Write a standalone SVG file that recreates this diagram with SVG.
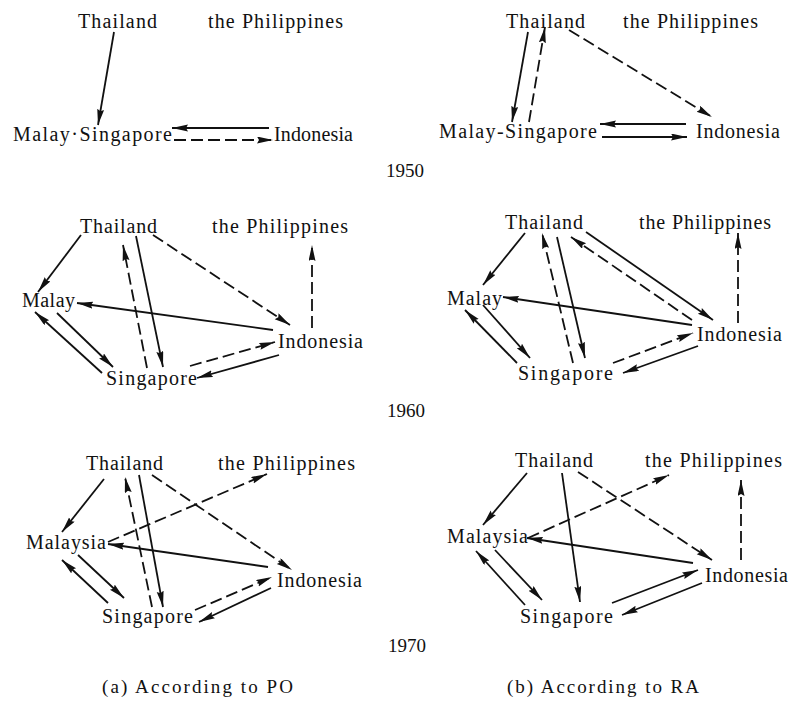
<svg xmlns="http://www.w3.org/2000/svg" width="792" height="701" viewBox="0 0 792 701">
<style>
text{font-family:"Liberation Serif","Times New Roman",serif;font-size:20px;fill:#111;}
.cap{font-size:19px;}
.s{stroke:#111;stroke-width:1.8;fill:none;marker-end:url(#ah);}
.d{stroke:#111;stroke-width:1.8;fill:none;stroke-dasharray:12 5;marker-end:url(#ah);}
</style>
<defs>
<marker id="ah" markerUnits="userSpaceOnUse" markerWidth="17" markerHeight="8" refX="16" refY="3.5" orient="auto">
<path d="M0,0 L16,3.5 L0,7 L2,3.5 Z" fill="#111"/>
</marker>
</defs>
<rect width="792" height="701" fill="#fff"/>

<!-- 1950 (a) -->
<g id="a1950-thailand"><text x="78" y="28" textLength="79" lengthAdjust="spacing">Thailand</text></g>
<g id="a1950-philippines"><text x="208" y="28" textLength="135" lengthAdjust="spacing">the Philippines</text></g>
<g id="a1950-malaysingapore"><text x="13" y="141" textLength="159" lengthAdjust="spacing">Malay·Singapore</text></g>
<g id="a1950-indonesia"><text x="274" y="141" textLength="79" lengthAdjust="spacing">Indonesia</text></g>
<g id="a1950-edges">
<path class="s" d="M114,32 L98,125"/>
<path class="s" d="M269,128 L172,128"/>
<path class="d" d="M174,140 L273,140"/>
</g>

<!-- 1950 (b) -->
<g id="b1950-thailand"><text x="506" y="28" textLength="79" lengthAdjust="spacing">Thailand</text></g>
<g id="b1950-philippines"><text x="623" y="28" textLength="135" lengthAdjust="spacing">the Philippines</text></g>
<g id="b1950-malaysingapore"><text x="439" y="138" textLength="158" lengthAdjust="spacing">Malay-Singapore</text></g>
<g id="b1950-indonesia"><text x="696" y="138" textLength="84" lengthAdjust="spacing">Indonesia</text></g>
<g id="b1950-edges">
<path class="s" d="M528,32 L512,122"/>
<path class="d" d="M529,122 L545,27"/>
<path class="d" d="M569,30 L712,117"/>
<path class="s" d="M686,124 L600,124"/>
<path class="s" d="M602,137 L687,137"/>
</g>
<g id="y1950"><text x="386" y="177" class="cap">1950</text></g>

<!-- 1960 (a) -->
<g id="a1960-thailand"><text x="80" y="233" textLength="77" lengthAdjust="spacing">Thailand</text></g>
<g id="a1960-philippines"><text x="212" y="233" textLength="136" lengthAdjust="spacing">the Philippines</text></g>
<g id="a1960-malay"><text x="22" y="307" textLength="53" lengthAdjust="spacing">Malay</text></g>
<g id="a1960-indonesia"><text x="278" y="348" textLength="85" lengthAdjust="spacing">Indonesia</text></g>
<g id="a1960-singapore"><text x="106" y="385" textLength="91" lengthAdjust="spacing">Singapore</text></g>
<g id="a1960-edges">
<path class="s" d="M81,235 L38,292"/>
<path class="s" d="M273,330 L77,303"/>
<path class="s" d="M57,313 L113,367"/>
<path class="s" d="M102,373 L35,312"/>
<path class="d" d="M147,368 L123,245"/>
<path class="s" d="M136,236 L163,367"/>
<path class="d" d="M153,235 L290,325"/>
<path class="d" d="M312,328 L312,245"/>
<path class="d" d="M190,366 L275,342"/>
<path class="s" d="M279,355 L197,378"/>
</g>

<!-- 1960 (b) -->
<g id="b1960-thailand"><text x="505" y="229" textLength="78" lengthAdjust="spacing">Thailand</text></g>
<g id="b1960-philippines"><text x="639" y="229" textLength="132" lengthAdjust="spacing">the Philippines</text></g>
<g id="b1960-malay"><text x="447" y="305" textLength="55" lengthAdjust="spacing">Malay</text></g>
<g id="b1960-indonesia"><text x="697" y="341" textLength="85" lengthAdjust="spacing">Indonesia</text></g>
<g id="b1960-singapore"><text x="518" y="380" textLength="95" lengthAdjust="spacing">Singapore</text></g>
<g id="b1960-edges">
<path class="s" d="M525,233 L483,285"/>
<path class="s" d="M692,325 L503,297"/>
<path class="s" d="M483,305 L530,358"/>
<path class="s" d="M517,363 L465,310"/>
<path class="d" d="M573,363 L542,233"/>
<path class="s" d="M557,237 L585,358"/>
<path class="s" d="M586,232 L713,320"/>
<path class="d" d="M692,320 L571,237"/>
<path class="d" d="M738,323 L738,233"/>
<path class="d" d="M613,363 L693,333"/>
<path class="s" d="M698,346 L623,373"/>
</g>
<g id="y1960"><text x="387" y="417" class="cap">1960</text></g>

<!-- 1970 (a) -->
<g id="a1970-thailand"><text x="86" y="470" textLength="77" lengthAdjust="spacing">Thailand</text></g>
<g id="a1970-philippines"><text x="218" y="470" textLength="137" lengthAdjust="spacing">the Philippines</text></g>
<g id="a1970-malaysia"><text x="26" y="549" textLength="80" lengthAdjust="spacing">Malaysia</text></g>
<g id="a1970-indonesia"><text x="277" y="587" textLength="85" lengthAdjust="spacing">Indonesia</text></g>
<g id="a1970-singapore"><text x="102" y="623" textLength="91" lengthAdjust="spacing">Singapore</text></g>
<g id="a1970-edges">
<path class="s" d="M104,479 L62,532"/>
<path class="s" d="M268,567 L108,544"/>
<path class="s" d="M78,555 L124,598"/>
<path class="s" d="M108,603 L62,560"/>
<path class="d" d="M152,607 L125,477"/>
<path class="s" d="M139,475 L163,607"/>
<path class="d" d="M152,475 L292,570"/>
<path class="d" d="M108,542 L267,474"/>
<path class="d" d="M195,610 L272,577"/>
<path class="s" d="M271,588 L199,622"/>
</g>

<!-- 1970 (b) -->
<g id="b1970-thailand"><text x="515" y="467" textLength="78" lengthAdjust="spacing">Thailand</text></g>
<g id="b1970-philippines"><text x="645" y="467" textLength="137" lengthAdjust="spacing">the Philippines</text></g>
<g id="b1970-malaysia"><text x="447" y="543" textLength="81" lengthAdjust="spacing">Malaysia</text></g>
<g id="b1970-indonesia"><text x="705" y="582" textLength="83" lengthAdjust="spacing">Indonesia</text></g>
<g id="b1970-singapore"><text x="520" y="623" textLength="93" lengthAdjust="spacing">Singapore</text></g>
<g id="b1970-edges">
<path class="s" d="M527,473 L483,525"/>
<path class="s" d="M693,563 L527,538"/>
<path class="s" d="M495,550 L542,600"/>
<path class="s" d="M525,605 L476,551"/>
<path class="s" d="M562,473 L580,602"/>
<path class="d" d="M578,472 L712,560"/>
<path class="d" d="M528,538 L669,475"/>
<path class="d" d="M741,560 L741,480"/>
<path class="s" d="M612,603 L698,570"/>
<path class="s" d="M702,583 L622,615"/>
</g>
<g id="y1970"><text x="388" y="652" class="cap">1970</text></g>

<g id="caption-a"><text x="102" y="693" class="cap" textLength="191" lengthAdjust="spacing">(a) According to PO</text></g>
<g id="caption-b"><text x="507" y="693" class="cap" textLength="192" lengthAdjust="spacing">(b) According to RA</text></g>
</svg>
